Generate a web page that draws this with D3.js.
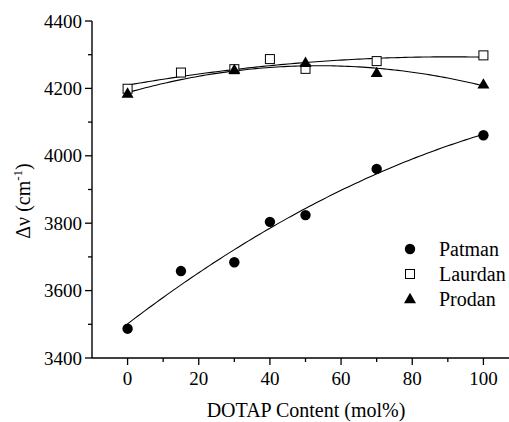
<!DOCTYPE html>
<html>
<head>
<meta charset="utf-8">
<script src="https://cdn.jsdelivr.net/npm/d3@7"></script>
<style>
  html, body { margin: 0; padding: 0; background: #fff; }
  svg { display: block; }
</style>
</head>
<body>
<svg id="chart" width="509" height="422" font-family="'Liberation Serif', Tinos, 'Times New Roman', Times, 'DejaVu Serif', serif"></svg>
<script>
// DOTAP content (mol%) for each probe
const patmanX = [0, 15, 30, 40, 50, 70, 100];
const patmanY = [3487, 3658, 3684, 3804, 3824, 3961, 4061];
const laurdanX = [0, 15, 30, 40, 50, 70, 100];
const laurdanY = [4199, 4247, 4257, 4287, 4258, 4281, 4298];
const prodanX = [0, 30, 50, 70, 100];
const prodanY = [4185, 4255, 4276, 4246, 4212];

const seriesNames = ["Patman", "Laurdan", "Prodan"];
const xTicks = [0, 20, 40, 60, 80, 100];
const yTicks = [3400, 3600, 3800, 4000, 4200, 4400];

const svg = d3.select("#chart");
const plotLeft = 92, plotRight = 519, plotTop = 21, plotBottom = 358;

const x = d3.scaleLinear().domain([-10, 110]).range([plotLeft, plotRight]);
const y = d3.scaleLinear().domain([3400, 4400]).range([plotBottom, plotTop]);

// second-order least-squares polynomial through the measured points
function quadFit(xs, ys) {
  const n = xs.length;
  let s = [0, 0, 0, 0, 0], t = [0, 0, 0];
  for (let i = 0; i < n; i++) {
    for (let k = 0; k < 5; k++) s[k] += Math.pow(xs[i], k);
    for (let k = 0; k < 3; k++) t[k] += ys[i] * Math.pow(xs[i], k);
  }
  const A = [[s[0], s[1], s[2], t[0]], [s[1], s[2], s[3], t[1]], [s[2], s[3], s[4], t[2]]];
  for (let c = 0; c < 3; c++) {
    for (let r = c + 1; r < 3; r++) {
      const f = A[r][c] / A[c][c];
      for (let k = c; k < 4; k++) A[r][k] -= f * A[c][k];
    }
  }
  const b = [0, 0, 0];
  for (let r = 2; r >= 0; r--) {
    let v = A[r][3];
    for (let k = r + 1; k < 3; k++) v -= A[r][k] * b[k];
    b[r] = v / A[r][r];
  }
  return xv => b[0] + b[1] * xv + b[2] * xv * xv;
}

const series = [
  { name: seriesNames[0], xs: patmanX, ys: patmanY, shape: "circle" },
  { name: seriesNames[1], xs: laurdanX, ys: laurdanY, shape: "square" },
  { name: seriesNames[2], xs: prodanX, ys: prodanY, shape: "triangle" }
];

// fitted curves
const line = d3.line().x(d => x(d[0])).y(d => y(d[1]));
series.forEach(s => {
  const f = quadFit(s.xs, s.ys);
  const pts = d3.range(0, 100.5, 1).map(v => [v, f(v)]);
  svg.append("path").attr("d", line(pts))
    .attr("fill", "none").attr("stroke", "#000").attr("stroke-width", 1.1);
});

function drawMarker(g, shape, cx, cy) {
  if (shape === "circle") {
    g.append("circle").attr("cx", cx).attr("cy", cy).attr("r", 5.2).attr("fill", "#000");
  } else if (shape === "square") {
    g.append("rect").attr("x", cx - 4.5).attr("y", cy - 4.5).attr("width", 9).attr("height", 9)
      .attr("fill", "#fff").attr("stroke", "#000").attr("stroke-width", 1);
  } else {
    g.append("path").attr("d", `M${cx},${cy - 6.2}L${cx + 6},${cy + 4.2}L${cx - 6},${cy + 4.2}Z`)
      .attr("fill", "#000");
  }
}

// data markers
series.forEach(s => {
  const g = svg.append("g");
  s.xs.forEach((xv, i) => drawMarker(g, s.shape, x(xv), y(s.ys[i])));
});

// axes
const yAxis = svg.append("g").attr("transform", `translate(${plotLeft},0)`);
yAxis.append("line").attr("x1", 0).attr("x2", 0).attr("y1", plotTop).attr("y2", plotBottom)
  .attr("stroke", "#000").attr("stroke-width", 1.4);
d3.range(3400, 4401, 100).forEach(v => {
  const major = v % 200 === 0;
  yAxis.append("line").attr("x1", major ? -7 : -4).attr("x2", 0)
    .attr("y1", y(v)).attr("y2", y(v)).attr("stroke", "#000").attr("stroke-width", 1.3);
});
yTicks.forEach(v => {
  yAxis.append("text").attr("x", -10).attr("y", y(v)).attr("dy", "0.35em")
    .attr("text-anchor", "end").attr("font-size", 19).text(v);
});

const xAxis = svg.append("g").attr("transform", `translate(0,${plotBottom})`);
xAxis.append("line").attr("x1", plotLeft).attr("x2", plotRight).attr("y1", 0).attr("y2", 0)
  .attr("stroke", "#000").attr("stroke-width", 1.4);
d3.range(0, 111, 10).forEach(v => {
  const major = v % 20 === 0;
  xAxis.append("line").attr("x1", x(v)).attr("x2", x(v)).attr("y1", 0).attr("y2", major ? 7 : 4)
    .attr("stroke", "#000").attr("stroke-width", 1.3);
});
xTicks.forEach(v => {
  xAxis.append("text").attr("x", x(v)).attr("y", 27)
    .attr("text-anchor", "middle").attr("font-size", 19).text(v);
});

// axis titles
svg.append("text").attr("x", 306).attr("y", 417).attr("text-anchor", "middle")
  .attr("font-size", 20).text("DOTAP Content (mol%)");
const yt = svg.append("text").attr("transform", "translate(30,201) rotate(-90)")
  .attr("text-anchor", "middle").attr("font-size", 20);
yt.append("tspan").text("Δν (cm");
yt.append("tspan").attr("dy", -8).attr("font-size", 13).text("-1");
yt.append("tspan").attr("dy", 8).text(")");

// legend
series.forEach((s, i) => {
  const by = 256 + i * 25;
  const g = svg.append("g");
  drawMarker(g, s.shape, 410, by - 7);
  g.append("text").attr("x", 439).attr("y", by).attr("font-size", 20).text(s.name);
});
</script>
</body>
</html>
